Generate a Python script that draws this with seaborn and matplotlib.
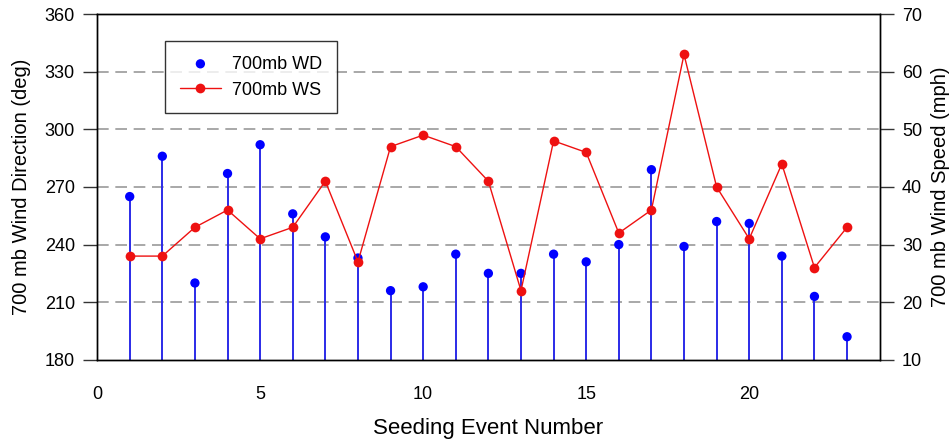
import numpy as np
import pandas as pd
import matplotlib
matplotlib.use("Agg")
import matplotlib.pyplot as plt
import seaborn as sns

# values
event = list(range(1, 24))
wind_dir = [265, 286, 220, 277, 292, 256, 244, 233, 216, 218, 235, 225,
            225, 235, 231, 240, 279, 239, 252, 251, 234, 213, 192]
wind_spd = [28, 28, 33, 36, 31, 33, 41, 27, 47, 49, 47, 41,
            22, 48, 46, 32, 36, 63, 40, 31, 44, 26, 33]

df = pd.DataFrame({"event": event, "wd": wind_dir, "ws": wind_spd})

sns.set_style("white")
plt.rcParams["font.family"] = ["Liberation Sans", "DejaVu Sans"]
plt.rcParams["text.color"] = "black"
plt.rcParams["axes.labelcolor"] = "black"
plt.rcParams["xtick.color"] = "black"
plt.rcParams["ytick.color"] = "black"

fig = plt.figure(figsize=(9.52, 4.42), dpi=100)
ax = fig.add_axes([0.102, 0.186, 0.822, 0.782])

# dashed grid on left axis
for y in [210, 240, 270, 300, 330]:
    ax.axhline(y, color="#999999", lw=1.2, ls=(0, (7, 4)), zorder=0)

ax.vlines(df["event"], 180, df["wd"], color="#2b2be8", lw=1.4, zorder=2)
sns.scatterplot(data=df, x="event", y="wd", ax=ax, color="#0000ff", s=45,
                edgecolor="none", zorder=3, label="700mb WD", legend=False)
ax.set_xlim(0, 24)
ax.set_ylim(180, 360)
ax.set_yticks(np.arange(180, 361, 30))
ax.set_xticks([0, 5, 10, 15, 20])
ax.set_xticks(range(0, 25), minor=True)
ax.set_xlabel("Seeding Event Number", fontsize=16)
ax.set_ylabel("700 mb Wind Direction (deg)", fontsize=14.5)
ax.xaxis.set_label_coords(0.5, -0.168)
ax.yaxis.set_label_coords(-0.084, 0.5)

ax2 = ax.twinx()
sns.lineplot(data=df, x="event", y="ws", ax=ax2, color="#ee1111", lw=1,
             marker="o", markersize=7, markeredgecolor="none",
             label="700mb WS", legend=False)
ax2.set_ylim(10, 70)
ax2.set_yticks(np.arange(10, 71, 10))
ax2.set_ylabel("700 mb Wind Speed (mph)", fontsize=14.5)
ax2.yaxis.set_label_coords(1.065, 0.5)

for a in (ax, ax2):
    for s in a.spines.values():
        s.set_color("black")
        s.set_linewidth(1)
    a.tick_params(axis="both", which="major", direction="out", length=10,
                  width=1, labelsize=13, color="#333333", pad=6)
    a.tick_params(axis="x", which="minor", direction="out", length=5,
                  width=1, color="#333333")
ax.tick_params(axis="x", pad=9)
ax.tick_params(axis="y", left=True)
ax2.tick_params(axis="y", right=True)

h1, l1 = ax.get_legend_handles_labels()
h2, l2 = ax2.get_legend_handles_labels()
leg = ax2.legend(h1 + h2, l1 + l2, loc="upper left",
                 bbox_to_anchor=(0.087, 0.922), borderaxespad=0,
                 fontsize=13, frameon=True, fancybox=False,
                 edgecolor="black", borderpad=0.8, handlelength=2.3,
                 handletextpad=0.6, labelspacing=0.5)
leg.get_frame().set_linewidth(1)

fig.savefig("out.png", dpi=100)
